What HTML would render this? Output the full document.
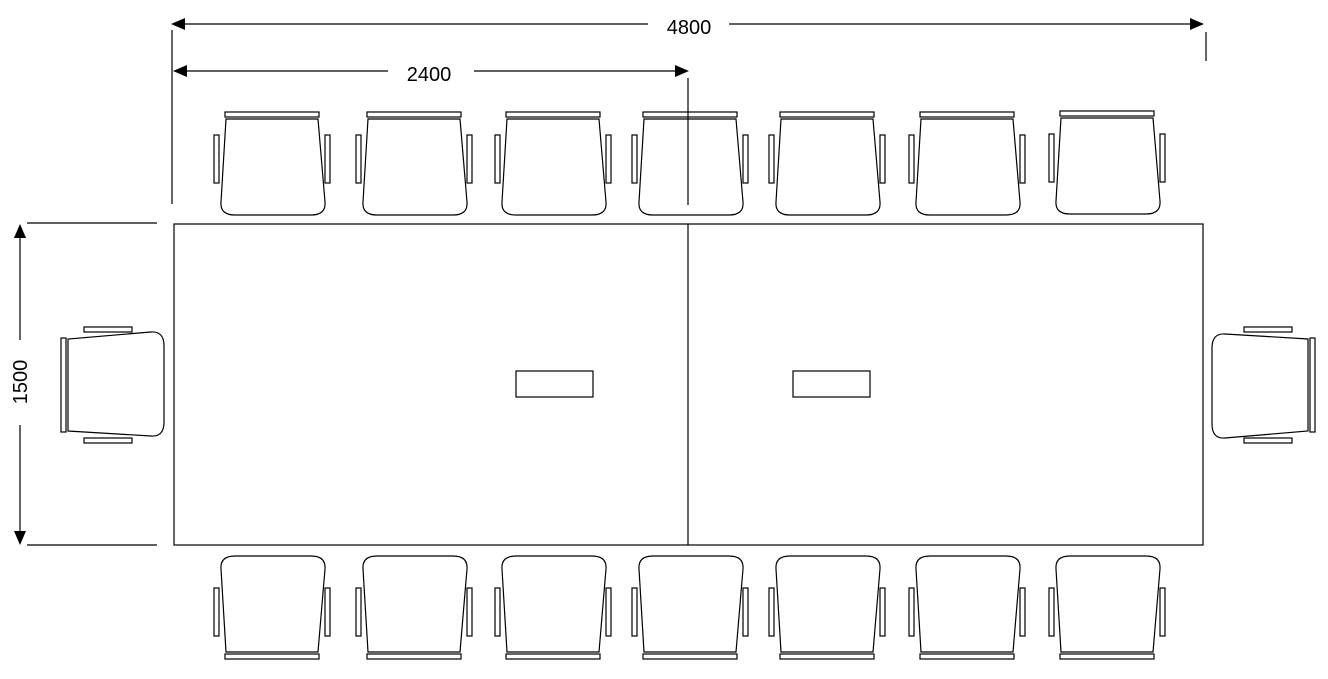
<!DOCTYPE html>
<html><head><meta charset="utf-8"><style>
html,body{margin:0;padding:0;background:#fff;}
svg{display:block;}
text{font-family:"Liberation Sans",sans-serif;font-size:20px;fill:#000;}
</style></head><body>
<svg width="1328" height="679" viewBox="0 0 1328 679" xmlns="http://www.w3.org/2000/svg">
<defs>
<g id="ch" fill="none" stroke="#000" stroke-width="1.2">
<rect x="0" y="0" width="94" height="5"/>
<path d="M1,7 L93,7 L100,90 Q101,103 86,103 L10,103 Q-5,103 -4,90 Z"/>
<rect x="-11" y="23" width="5" height="48"/>
<rect x="100" y="23" width="5" height="48"/>
</g>
</defs>
<g>
<use href="#ch" x="225" y="112"/>
<use href="#ch" x="367" y="112"/>
<use href="#ch" x="506" y="112"/>
<use href="#ch" x="643" y="112"/>
<use href="#ch" x="780" y="112"/>
<use href="#ch" x="920" y="112"/>
<use href="#ch" x="1060" y="111"/>
</g>
<g transform="translate(0,771) scale(1,-1)">
<use href="#ch" x="225" y="112"/>
<use href="#ch" x="367" y="112"/>
<use href="#ch" x="506" y="112"/>
<use href="#ch" x="643" y="112"/>
<use href="#ch" x="780" y="112"/>
<use href="#ch" x="920" y="112"/>
<use href="#ch" x="1060" y="112"/>
</g>
<use href="#ch" transform="matrix(0,-1,1,0,61,432)"/>
<use href="#ch" transform="matrix(0,1,-1,0,1315,338)"/>
<g fill="none" stroke="#000" stroke-width="1.2">
<rect x="174" y="224" width="1029" height="321"/>
<line x1="688" y1="224" x2="688" y2="545"/>
<rect x="516" y="371" width="77" height="26"/>
<rect x="793" y="371" width="77" height="26"/>
<line x1="172" y1="30" x2="172" y2="204"/>
<line x1="1206" y1="32" x2="1206" y2="61"/>
<line x1="688" y1="78" x2="688" y2="205"/>
<line x1="27" y1="223" x2="157" y2="223"/>
<line x1="27" y1="545" x2="157" y2="545"/>
<line x1="184" y1="24" x2="648" y2="24"/>
<line x1="729" y1="24" x2="1190" y2="24"/>
<line x1="186" y1="71" x2="388" y2="71"/>
<line x1="474" y1="71" x2="676" y2="71"/>
<line x1="20" y1="236" x2="20" y2="340"/>
<line x1="20" y1="425" x2="20" y2="532"/>
</g>
<g fill="#000">
<polygon points="171,24 185,18 185,30"/>
<polygon points="1204,24 1190,18 1190,30"/>
<polygon points="173,71 187,65 187,77"/>
<polygon points="689,71 675,65 675,77"/>
<polygon points="20,224 14,238 26,238"/>
<polygon points="20,545 14,531 26,531"/>
</g>
<text x="689" y="34" text-anchor="middle">4800</text>
<text x="429" y="81" text-anchor="middle">2400</text>
<text transform="translate(20,382) rotate(-90)" x="0" y="7" text-anchor="middle">1500</text>
</svg>
</body></html>
